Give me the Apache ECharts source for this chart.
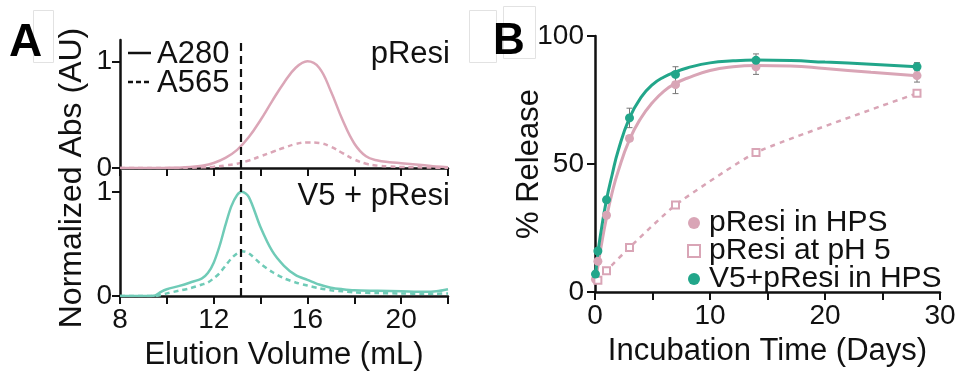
<!DOCTYPE html>
<html>
<head>
<meta charset="utf-8">
<script src="https://cdn.jsdelivr.net/npm/echarts@6/dist/echarts.min.js"></script>
<style>
html,body{margin:0;padding:0;background:#fff;}
#chart{width:959px;height:372px;}
</style>
</head>
<body>
<div id="chart"></div>
<script>
// ---------- Panel A data (size-exclusion chromatography) ----------
const volTop = [8,8.5,9,9.5,10,10.5,11,11.5,12,12.5,13,13.5,14,14.5,15,15.5,16,16.5,17,17.5,18,18.5,19,19.5,20,20.5,21,21.5,22];
const pResiA280 = [0,0,0,0,0.001,0.003,0.009,0.021,0.047,0.095,0.17,0.29,0.45,0.63,0.80,0.94,1.0,0.94,0.72,0.45,0.23,0.11,0.07,0.055,0.045,0.035,0.025,0.015,0.008];
const pResiA565 = [0,0,0,0,0,0.001,0.003,0.006,0.012,0.024,0.04,0.07,0.11,0.15,0.19,0.225,0.24,0.235,0.2,0.14,0.08,0.04,0.022,0.014,0.01,0.007,0.005,0.003,0.002];

const volBottom = [8,8.5,9,9.5,9.75,10,10.5,11,11.5,11.75,12,12.25,12.5,12.75,13,13.2,13.5,14,14.5,15,15.5,16,16.5,17,17.5,18,19,20,21,21.5,22];
const v5A280 = [0,0,0,0.005,0.04,0.065,0.095,0.13,0.17,0.22,0.32,0.48,0.68,0.86,0.97,1.0,0.95,0.66,0.43,0.29,0.2,0.155,0.11,0.08,0.065,0.055,0.05,0.045,0.04,0.045,0.065];
const v5A565 = [0,0,0,0,0.01,0.025,0.05,0.075,0.11,0.13,0.17,0.22,0.29,0.36,0.41,0.43,0.41,0.31,0.23,0.17,0.13,0.1,0.075,0.055,0.045,0.035,0.028,0.024,0.022,0.022,0.025];

const markerVolume = 13.17;
const absTicks = [0, 1];
const elutionTicks = [8, 12, 16, 20];

// ---------- Panel B data (release) ----------
const daysHPS = [0.04, 0.25, 1, 3, 7, 14, 28];
const pResiHPS = [5, 12, 30, 60, 81, 88, 84.5];
const pResiHPSErr = [0.5, 1, 1, 1, 3.5, 3, 2.5];
const v5HPS = [7, 16, 36, 68, 85, 90.5, 88];
const v5HPSErr = [0.5, 1, 1, 3.8, 3, 2.5, 1.6];
const daysPH5 = [0.25, 1, 3, 7, 14, 28];
const pResiPH5 = [4.6, 8.3, 17.4, 34, 54.5, 77.6];
const pResiPH5Err = [0.8, 0.8, 0.8, 1, 1, 1.2];
// fitted curves as drawn in the figure
const fitDays = [0, 0.25, 0.5, 1, 1.5, 2, 3, 4, 5, 6, 7, 8, 10, 12, 14, 17, 20, 24, 28];
const pResiHPSFit = [3, 10, 17, 29, 39, 47, 59.5, 68, 74, 78.5, 81.5, 83.5, 86.5, 88, 88.5, 88.3, 87.3, 85.8, 84.5];
const v5HPSFit = [4, 15, 23, 36, 46, 55, 68, 76, 81, 84, 86, 87.5, 89.5, 90.3, 90.6, 90.4, 89.8, 89, 88];
const releaseTicks = [0, 50, 100];

const FONT = "'Liberation Sans', Arial, Helvetica, sans-serif";
const PINK_A = '#dba6b7';
const TEAL_A = '#6fcbb7';
const PINK_B = '#d9a5b6';
const GREEN_B = '#22a68a';
const INK = '#111';

const zip = (xs, ys) => xs.map((x, i) => [x, ys[i]]);

function errSeries(name, xs, ys, errs, idx) {
  return {
    type: 'custom', name: name + ' err', xAxisIndex: idx, yAxisIndex: idx, z: 1,
    data: xs.map((x, i) => [x, ys[i] - errs[i], ys[i] + errs[i]]),
    renderItem: function (params, api) {
      const x = api.value(0);
      const lo = api.coord([x, api.value(1)]);
      const hi = api.coord([x, api.value(2)]);
      const w = 3, st = { stroke: '#777', lineWidth: 1 };
      return { type: 'group', children: [
        { type: 'line', shape: { x1: lo[0], y1: lo[1], x2: hi[0], y2: hi[1] }, style: st },
        { type: 'line', shape: { x1: lo[0]-w, y1: lo[1], x2: lo[0]+w, y2: lo[1] }, style: st },
        { type: 'line', shape: { x1: hi[0]-w, y1: hi[1], x2: hi[0]+w, y2: hi[1] }, style: st }
      ]};
    }
  };
}

const axisLine = { lineStyle: { color: INK, width: 2.5 } };
const axisTick = { length: 8, lineStyle: { color: INK, width: 2 } };
const tickLabel = { color: INK, fontSize: 28, fontFamily: FONT };

function absYAxis(gi) {
  return {
    type: 'value', gridIndex: gi, min: 0, max: 1.2,
    axisLine: Object.assign({ show: true }, axisLine),
    axisTick: Object.assign({ show: true, customValues: absTicks }, axisTick),
    axisLabel: Object.assign({ customValues: absTicks, margin: 8 }, tickLabel),
    splitLine: { show: false }
  };
}
function elutionXAxis(gi, showLabels) {
  const ax = {
    type: 'value', gridIndex: gi, min: 8, max: 22, interval: 2,
    axisLine: Object.assign({ onZero: false }, axisLine),
    axisTick: Object.assign({ show: true }, axisTick),
    axisLabel: Object.assign({ show: showLabels, margin: 10,
      formatter: v => (elutionTicks.indexOf(v) >= 0 ? String(v) : '') }, tickLabel),
    splitLine: { show: false }
  };
  if (showLabels) {
    ax.name = 'Elution Volume (mL)';
    ax.nameLocation = 'middle';
    ax.nameGap = 44;
    ax.nameMoveOverlap = false;
    ax.nameTextStyle = { color: INK, fontSize: 31, fontFamily: FONT };
  }
  return ax;
}

const markLineCfg = {
  silent: true, symbol: 'none', label: { show: false },
  lineStyle: { color: '#111', width: 2.2, type: [8, 5] },
  data: [{ xAxis: markerVolume }]
};

const option = {
  animation: false,
  backgroundColor: '#fff',
  grid: [
    { left: 120, top: 40, width: 328, height: 128 },
    { left: 120, top: 171, width: 328, height: 127 },
    { left: 595, top: 36, width: 345, height: 260 }
  ],
  xAxis: [
    elutionXAxis(0, false),
    elutionXAxis(1, true),
    {
      type: 'value', gridIndex: 2, min: 0, max: 30, interval: 5,
      axisLine: Object.assign({ onZero: false }, axisLine),
      axisTick: Object.assign({ show: true }, axisTick),
      axisLabel: Object.assign({ margin: 10, formatter: v => (v % 10 === 0 ? String(v) : '') }, tickLabel),
      splitLine: { show: false },
      name: 'Incubation Time (Days)', nameLocation: 'middle', nameGap: 44, nameMoveOverlap: false,
      nameTextStyle: { color: INK, fontSize: 31, fontFamily: FONT }
    }
  ],
  yAxis: [
    absYAxis(0),
    absYAxis(1),
    {
      type: 'value', gridIndex: 2, min: 0, max: 100,
      axisLine: Object.assign({ show: true }, axisLine),
      axisTick: Object.assign({ show: true, customValues: releaseTicks }, axisTick),
      axisLabel: Object.assign({ customValues: releaseTicks, margin: 11 }, tickLabel),
      splitLine: { show: false },
      name: '% Release', nameLocation: 'middle', nameGap: 50, nameMoveOverlap: false,
      nameTextStyle: { color: INK, fontSize: 31, fontFamily: FONT }
    }
  ],
  legend: {
    orient: 'vertical', left: 687, top: 208, padding: 0,
    itemWidth: 20, itemHeight: 12, itemGap: -2,
    textStyle: { color: INK, fontSize: 30, fontFamily: FONT, lineHeight: 28 },
    data: [
      { name: 'pResi in HPS', icon: 'circle' },
      { name: 'pResi at pH 5', icon: 'path://M0,0L10,0L10,10L0,10Z',
        itemStyle: { color: '#fff', borderColor: PINK_B, borderWidth: 2 } },
      { name: 'V5+pResi in HPS', icon: 'circle' }
    ]
  },
  series: [
    // Panel A top: pResi
    { type: 'line', name: 'pResi A280', xAxisIndex: 0, yAxisIndex: 0, data: zip(volTop, pResiA280),
      smooth: 0.4, showSymbol: false, lineStyle: { color: PINK_A, width: 2.5 }, markLine: markLineCfg },
    { type: 'line', name: 'pResi A565', xAxisIndex: 0, yAxisIndex: 0, data: zip(volTop, pResiA565),
      smooth: 0.4, showSymbol: false, lineStyle: { color: PINK_A, width: 2.5, type: [5, 4] } },
    // Panel A bottom: V5 + pResi
    { type: 'line', name: 'V5 + pResi A280', xAxisIndex: 1, yAxisIndex: 1, data: zip(volBottom, v5A280),
      smooth: 0.3, showSymbol: false, lineStyle: { color: TEAL_A, width: 2.5 }, markLine: markLineCfg },
    { type: 'line', name: 'V5 + pResi A565', xAxisIndex: 1, yAxisIndex: 1, data: zip(volBottom, v5A565),
      smooth: 0.3, showSymbol: false, lineStyle: { color: TEAL_A, width: 2.5, type: [5, 4] } },
    // Panel B fitted curves
    { type: 'line', name: 'pResi in HPS fit', xAxisIndex: 2, yAxisIndex: 2, data: zip(fitDays, pResiHPSFit),
      smooth: 0.5, showSymbol: false, z: 2, lineStyle: { color: PINK_B, width: 3 } },
    { type: 'line', name: 'V5+pResi in HPS fit', xAxisIndex: 2, yAxisIndex: 2, data: zip(fitDays, v5HPSFit),
      smooth: 0.5, showSymbol: false, z: 2, lineStyle: { color: GREEN_B, width: 3 } },
    // Panel B error bars
    errSeries('pResi in HPS', daysHPS, pResiHPS, pResiHPSErr, 2),
    errSeries('pResi at pH 5', daysPH5, pResiPH5, pResiPH5Err, 2),
    errSeries('V5+pResi in HPS', daysHPS, v5HPS, v5HPSErr, 2),
    // Panel B measured points
    { type: 'scatter', name: 'pResi in HPS', xAxisIndex: 2, yAxisIndex: 2, data: zip(daysHPS, pResiHPS),
      symbol: 'circle', symbolSize: 9, z: 3, itemStyle: { color: PINK_B, opacity: 1 } },
    { type: 'line', name: 'pResi at pH 5', xAxisIndex: 2, yAxisIndex: 2, data: zip(daysPH5, pResiPH5),
      smooth: 0.15, symbol: 'rect', symbolSize: 7, z: 3,
      itemStyle: { color: '#fff', borderColor: PINK_B, borderWidth: 2 },
      lineStyle: { color: PINK_B, width: 2.5, type: [5, 5] } },
    { type: 'scatter', name: 'V5+pResi in HPS', xAxisIndex: 2, yAxisIndex: 2, data: zip(daysHPS, v5HPS),
      symbol: 'circle', symbolSize: 9, z: 4, itemStyle: { color: GREEN_B, opacity: 1 } }
  ],
  graphic: [
    // faint boxes behind panel labels
    { type: 'rect', z: 0, shape: { x: 33.5, y: 10.5, width: 20, height: 52 }, style: { fill: '#fff', stroke: '#e2e2e2', lineWidth: 1 } },
    { type: 'rect', z: 0, shape: { x: 469.5, y: 10.5, width: 27, height: 52 }, style: { fill: '#fff', stroke: '#e2e2e2', lineWidth: 1 } },
    { type: 'rect', z: 0, shape: { x: 503.5, y: 6.5, width: 32, height: 52 }, style: { fill: '#fff', stroke: '#e2e2e2', lineWidth: 1 } },
    { type: 'text', z: 10, x: 9, y: 43, style: { text: 'A', fill: '#000', font: 'bold 46px ' + FONT, verticalAlign: 'middle' } },
    { type: 'text', z: 10, x: 493, y: 42, style: { text: 'B', fill: '#000', font: 'bold 44px ' + FONT, verticalAlign: 'middle' } },
    // Panel A y-axis title
    { type: 'text', z: 10, x: 72, y: 178, rotation: Math.PI / 2,
      style: { text: 'Normalized Abs (AU)', fill: INK, font: '32px ' + FONT, align: 'center', verticalAlign: 'middle' } },
    // Panel A titles
    { type: 'text', z: 10, x: 450, y: 54, style: { text: 'pResi', fill: INK, font: '31px ' + FONT, align: 'right', verticalAlign: 'middle' } },
    { type: 'text', z: 10, x: 450, y: 196, style: { text: 'V5 + pResi', fill: INK, font: '31px ' + FONT, align: 'right', verticalAlign: 'middle' } },
    // Panel A line-style key
    { type: 'line', z: 10, shape: { x1: 128, y1: 53, x2: 151, y2: 53 }, style: { stroke: '#111', lineWidth: 2.5 } },
    { type: 'text', z: 10, x: 157, y: 54, style: { text: 'A280', fill: INK, font: '31px ' + FONT, verticalAlign: 'middle' } },
    { type: 'line', z: 10, shape: { x1: 128, y1: 82, x2: 151, y2: 82 }, style: { stroke: '#111', lineWidth: 2.5, lineDash: [5, 3] } },
    { type: 'text', z: 10, x: 157, y: 83, style: { text: 'A565', fill: INK, font: '31px ' + FONT, verticalAlign: 'middle' } }
  ]
};

const chart = echarts.init(document.getElementById('chart'), null, { renderer: 'canvas' });
chart.setOption(option);
</script>
</body>
</html>
